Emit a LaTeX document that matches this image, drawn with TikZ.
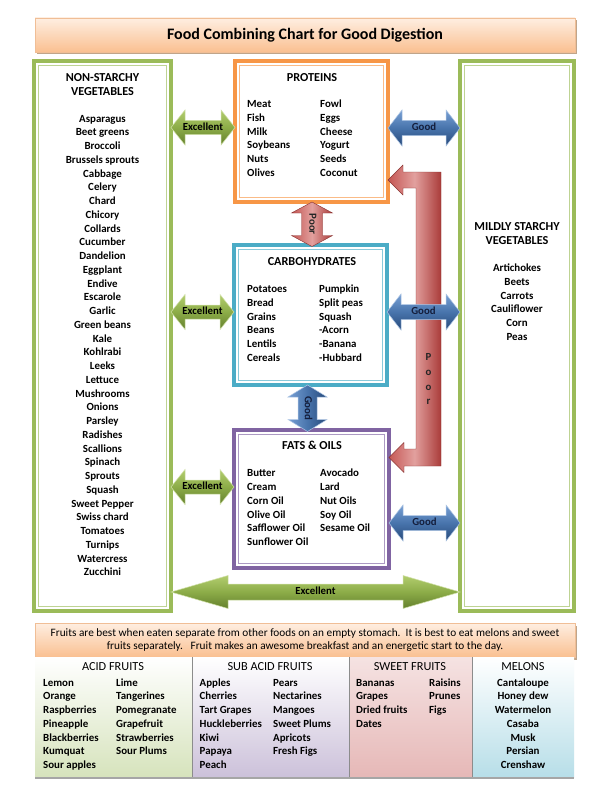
\documentclass[tikz,border=0pt]{standalone}
\usepackage{fontspec}
\setmainfont{Carlito}
\usetikzlibrary{calc,shadows}
\definecolor{gbord}{RGB}{155,187,89}
\definecolor{obord}{RGB}{247,150,70}
\definecolor{cbord}{RGB}{75,172,198}
\definecolor{pbord}{RGB}{128,100,162}
\definecolor{garL}{RGB}{178,205,110}
\definecolor{garM}{RGB}{140,172,72}
\definecolor{garD}{RGB}{100,128,45}
\definecolor{barL}{RGB}{120,160,212}
\definecolor{barM}{RGB}{72,116,172}
\definecolor{barD}{RGB}{40,74,122}
\definecolor{rarL}{RGB}{226,160,158}
\definecolor{rarM}{RGB}{196,86,83}
\definecolor{rarD}{RGB}{170,60,58}
\definecolor{peachL}{RGB}{254,238,225}
\definecolor{peachD}{RGB}{250,192,145}
\definecolor{peachB}{RGB}{240,190,150}
\definecolor{txtgood}{RGB}{20,30,60}
\definecolor{fgreen}{RGB}{214,227,188}
\definecolor{fpurple}{RGB}{204,193,218}
\definecolor{fpink}{RGB}{230,184,183}
\definecolor{fcyan}{RGB}{183,222,232}
\newcommand\dblbox[6]{%
 \node[draw=#6, line width=3.2pt, outer sep=0pt, inner sep=0pt, fill=white,
   minimum width=#4-#2, minimum height=#5-#3, anchor=north west] (#1) at (#2,#3) {};
 \draw[#6!65, line width=0.9pt] ($(#1.north west)+(4.5,4.5)$) rectangle ($(#1.south east)+(-4.5,-4.5)$);}
\newcommand\harrow[6]{%
 \path[#6] (#1) -- ($(#1)+(#5,-#4)$) -- ($(#1)+(#5,-#3)$) -- ($(#2)+(-#5,-#3)$) -- ($(#2)+(-#5,-#4)$) -- (#2)
   -- ($(#2)+(-#5,#4)$) -- ($(#2)+(-#5,#3)$) -- ($(#1)+(#5,#3)$) -- ($(#1)+(#5,#4)$) -- cycle;}
\newcommand\varrow[6]{%
 \path[#6] (#1) -- ($(#1)+(#4,#5)$) -- ($(#1)+(#3,#5)$) -- ($(#2)+(#3,-#5)$) -- ($(#2)+(#4,-#5)$) -- (#2)
   -- ($(#2)+(-#4,-#5)$) -- ($(#2)+(-#3,-#5)$) -- ($(#1)+(-#3,#5)$) -- ($(#1)+(-#4,#5)$) -- cycle;}
\tikzset{
 itm/.style={font=\bfseries\fontsize{10.9}{12}\selectfont, inner sep=0pt, text height=7.8pt, text depth=2.4pt},
 itl/.style={itm, anchor=west},
 hdr/.style={font=\bfseries\fontsize{12.2}{14}\selectfont, inner sep=0pt, text height=8.6pt, text depth=2.5pt},
 fhdr/.style={font=\fontsize{12.3}{14}\selectfont, inner sep=0pt, text height=8.6pt, text depth=2.5pt},
 greenarrow/.style={top color=garL, bottom color=garD, middle color=garM, draw=garL!60!white, line width=0.5pt},
 bluearrow/.style={top color=barL, bottom color=barD, middle color=barM, draw=barL!60!white, line width=0.5pt},
 redarrow/.style={left color=rarM, right color=rarD, middle color=rarL, draw=rarD!80!black, line width=0.4pt},
 alabel/.style={font=\bfseries\fontsize{10.8}{12}\selectfont, inner sep=0pt, text height=7.6pt, text depth=2.2pt},
 peachbox/.style={draw=peachB, line width=0.6pt, top color=peachL, bottom color=peachD, inner sep=0pt, outer sep=0pt,
   drop shadow={shadow xshift=1.5pt, shadow yshift=-2.5pt, fill=brown!60!gray, opacity=0.7}},
}
\begin{document}
\begin{tikzpicture}[x=1pt,y=-1pt]
\useasboundingbox[fill=white] (0,0) rectangle (611,797);

% title
\node[peachbox, minimum width=540, minimum height=34, anchor=north west] (title) at (35,18) {};
\node[font=\bfseries\fontsize{16}{18}\selectfont, inner sep=0pt] (titletext) at (title.center) {Food Combining Chart for Good Digestion};

% boxes
\dblbox{nsv}{34}{61}{171}{611}{gbord}
\dblbox{msv}{460}{61}{574}{611}{gbord}
\dblbox{prot}{235}{61}{388}{202}{obord}
\dblbox{carb}{234}{245}{387}{385}{cbord}
\dblbox{fats}{234}{430}{389}{568}{pbord}

% non-starchy vegetables
\node[hdr] (nsvh1) at (102.5,78) {NON-STARCHY};
\node[hdr] (nsvh2) at (102.5,92.5) {VEGETABLES};
\foreach \t [count=\i from 0] in {Asparagus,Beet greens,Broccoli,Brussels sprouts,Cabbage,Celery,Chard,Chicory,Collards,Cucumber,Dandelion,Eggplant,Endive,Escarole,Garlic,Green beans,Kale,Kohlrabi,Leeks,Lettuce,Mushrooms,Onions,Parsley,Radishes,Scallions,Spinach,Sprouts,Squash,Sweet Pepper,Swiss chard,Tomatoes,Turnips,Watercress,Zucchini}
  \node[itm] (nsv\i) at (102.5,119.5+13.75*\i) {\t};

% mildly starchy
\node[hdr] (msvh1) at (517,227) {MILDLY STARCHY};
\node[hdr] (msvh2) at (517,241.5) {VEGETABLES};
\foreach \t [count=\i from 0] in {Artichokes,Beets,Carrots,Cauliflower,Corn,Peas}
  \node[itm] (msv\i) at (517,269+13.75*\i) {\t};

% proteins
\node[hdr] (proth) at (312,78) {PROTEINS};
\foreach \a/\b [count=\i from 0] in {Meat/Fowl,Fish/Eggs,Milk/Cheese,Soybeans/Yogurt,Nuts/Seeds,Olives/Coconut}{
  \node[itl] (pa\i) at (247,105+13.7*\i) {\a};
  \node[itl] (pb\i) at (320,105+13.7*\i) {\b};}

% carbohydrates
\node[hdr] (carbh) at (312,262) {CARBOHYDRATES};
\foreach \a/\b [count=\i from 0] in {Potatoes/Pumpkin,Bread/Split peas,Grains/Squash,Beans/-Acorn,Lentils/-Banana,Cereals/-Hubbard}{
  \node[itl] (ca\i) at (247,290+13.7*\i) {\a};
  \node[itl] (cb\i) at (319,290+13.7*\i) {\b};}

% fats
\node[hdr] (fatsh) at (312,446) {FATS \& OILS};
\foreach \a/\b [count=\i from 0] in {Butter/Avocado,Cream/Lard,Corn Oil/Nut Oils,Olive Oil/Soy Oil,Safflower Oil/Sesame Oil}{
  \node[itl] (fa\i) at (247,474+13.8*\i) {\a};
  \node[itl] (fb\i) at (320,474+13.8*\i) {\b};}
\node[itl] (fa5) at (247,474+13.8*5) {Sunflower Oil};

% connector end points
\coordinate (e1a) at (nsv.east |- 0,127.5);  \coordinate (e1b) at (prot.west |- 0,127.5);
\coordinate (e2a) at (nsv.east |- 0,312);    \coordinate (e2b) at (carb.west |- 0,312);
\coordinate (e3a) at (nsv.east |- 0,487);    \coordinate (e3b) at (fats.west |- 0,487);
\coordinate (e4a) at (nsv.east |- 0,592);    \coordinate (e4b) at (msv.west |- 0,592);
\coordinate (g1a) at (prot.east |- 0,128);   \coordinate (g1b) at (msv.west |- 0,128);
\coordinate (g2a) at (carb.east |- 0,312);   \coordinate (g2b) at (msv.west |- 0,312);
\coordinate (g3a) at (fats.east |- 0,523);   \coordinate (g3b) at (msv.west |- 0,523);
\coordinate (p1a) at (312,202);  \coordinate (p1b) at (312,246.5);
\coordinate (g4a) at (307.5,385);  \coordinate (g4b) at (307.5,431.5);

% red bracket arrow (Poor, to proteins and fats)
\coordinate (rt) at (prot.east |- 0,180);
\coordinate (rb) at (fats.east |- 0,457.5);
\path[redarrow] (rt) -- ++(15,-15) -- ++(0,7) -- (441,172) -- (441,466) -- ($(rb)+(15,8.5)$) -- ++(0,6.5) -- (rb)
   -- ++(15,-15) -- ++(0,6.5) -- (416,449) -- (416,188) -- ($(rt)+(15,8)$) -- ++(0,7) -- cycle;
\foreach \l/\y [count=\i] in {P/358,o/373,o/388,r/401.5}
  \node[alabel, text=black!85] (poor\i) at (428.5,\y) {\l};

% green arrows
\harrow{e1a}{e1b}{7}{17.5}{14}{greenarrow}
\harrow{e2a}{e2b}{7}{17.5}{14}{greenarrow}
\harrow{e3a}{e3b}{7}{17.5}{14}{greenarrow}
\harrow{e4a}{e4b}{8}{16.5}{57}{greenarrow}
\node[alabel] (x1) at ($(e1a)!0.5!(e1b)$) {Excellent};
\node[alabel] (x2) at ($(e2a)!0.5!(e2b)$) {Excellent};
\node[alabel] (x3) at ($(e3a)!0.5!(e3b)$) {Excellent};
\node[alabel] (x4) at ($(e4a)!0.5!(e4b)$) {Excellent};

% blue arrows
\harrow{g1a}{g1b}{7.5}{18}{14}{bluearrow}
\harrow{g2a}{g2b}{7.5}{18}{14}{bluearrow}
\harrow{g3a}{g3b}{7.5}{18}{14}{bluearrow}
\node[alabel, text=txtgood] (gd1) at ($(g1a)!0.5!(g1b)$) {Good};
\node[alabel, text=txtgood] (gd2) at ($(g2a)!0.5!(g2b)$) {Good};
\node[alabel, text=txtgood] (gd3) at ($(g3a)!0.5!(g3b)$) {Good};

% vertical arrows
\varrow{p1a}{p1b}{10.5}{20.5}{11}{redarrow}
\node[alabel, rotate=-90, text=black!85] (poorv) at ($(p1a)!0.5!(p1b)$) {Poor};
\varrow{g4a}{g4b}{9.5}{19.5}{12}{bluearrow, left color=barL, right color=barD, middle color=barM}
\node[alabel, rotate=-90, text=txtgood] (goodv) at ($(g4a)!0.5!(g4b)$) {Good};

% fruits
\node[peachbox, minimum width=540, minimum height=34, anchor=north west] (fbox) at (35,623) {};
\node[font=\fontsize{11.3}{13.4}\selectfont, align=center, inner sep=0pt] (ftext) at (fbox.center)
 {Fruits are best when eaten separate from other foods on an empty stomach.\ \ It is best to eat melons and sweet\\
  fruits separately.\ \ \ Fruit makes an awesome breakfast and an energetic start to the day.};

\node[anchor=north west, minimum width=157, minimum height=120, inner sep=0pt, outer sep=0pt, top color=white, bottom color=fgreen] (acid) at (35,657) {};
\node[anchor=north west, minimum width=157, minimum height=120, inner sep=0pt, outer sep=0pt, top color=white, bottom color=fpurple] (sub) at (192,657) {};
\node[anchor=north west, minimum width=123, minimum height=120, inner sep=0pt, outer sep=0pt, top color=white!60!fpink, bottom color=fpink] (sweet) at (349,657) {};
\node[anchor=north west, minimum width=102, minimum height=120, inner sep=0pt, outer sep=0pt, top color=white, bottom color=fcyan] (melon) at (472,657) {};
\draw[black!45, line width=0.6pt] (sub.north west) -- (sub.south west);
\draw[black!45, line width=0.6pt] (sweet.north west) -- (sweet.south west);
\draw[black!45, line width=0.6pt] (melon.north west) -- (melon.south west);
\draw[black!35, line width=1.6pt] ($(acid.south west)+(0,0.8)$) -- ($(melon.south east)+(0,0.8)$);

\node[fhdr] (acidh) at (113,667.5) {ACID FRUITS};
\node[fhdr] (subh) at (270,667.5) {SUB ACID FRUITS};
\node[fhdr] (sweeth) at (410,667.5) {SWEET FRUITS};
\node[fhdr] (melonh) at (523,667.5) {MELONS};
\foreach \t [count=\i from 0] in {Lemon,Orange,Raspberries,Pineapple,Blackberries,Kumquat,Sour apples}
  \node[itl] (ac1\i) at (43,683.5+13.75*\i) {\t};
\foreach \t [count=\i from 0] in {Lime,Tangerines,Pomegranate,Grapefruit,Strawberries,Sour Plums}
  \node[itl] (ac2\i) at (116,683.5+13.75*\i) {\t};
\foreach \t [count=\i from 0] in {Apples,Cherries,Tart Grapes,Huckleberries,Kiwi,Papaya,Peach}
  \node[itl] (sa1\i) at (199.5,683.5+13.75*\i) {\t};
\foreach \t [count=\i from 0] in {Pears,Nectarines,Mangoes,Sweet Plums,Apricots,Fresh Figs}
  \node[itl] (sa2\i) at (273,683.5+13.75*\i) {\t};
\foreach \t [count=\i from 0] in {Bananas,Grapes,Dried fruits,Dates}
  \node[itl] (sw1\i) at (356,683.5+13.75*\i) {\t};
\foreach \t [count=\i from 0] in {Raisins,Prunes,Figs}
  \node[itl] (sw2\i) at (429,683.5+13.75*\i) {\t};
\foreach \t [count=\i from 0] in {Cantaloupe,Honey dew,Watermelon,Casaba,Musk,Persian,Crenshaw}
  \node[itm] (me\i) at (523,683.5+13.75*\i) {\t};
\end{tikzpicture}
\end{document}
